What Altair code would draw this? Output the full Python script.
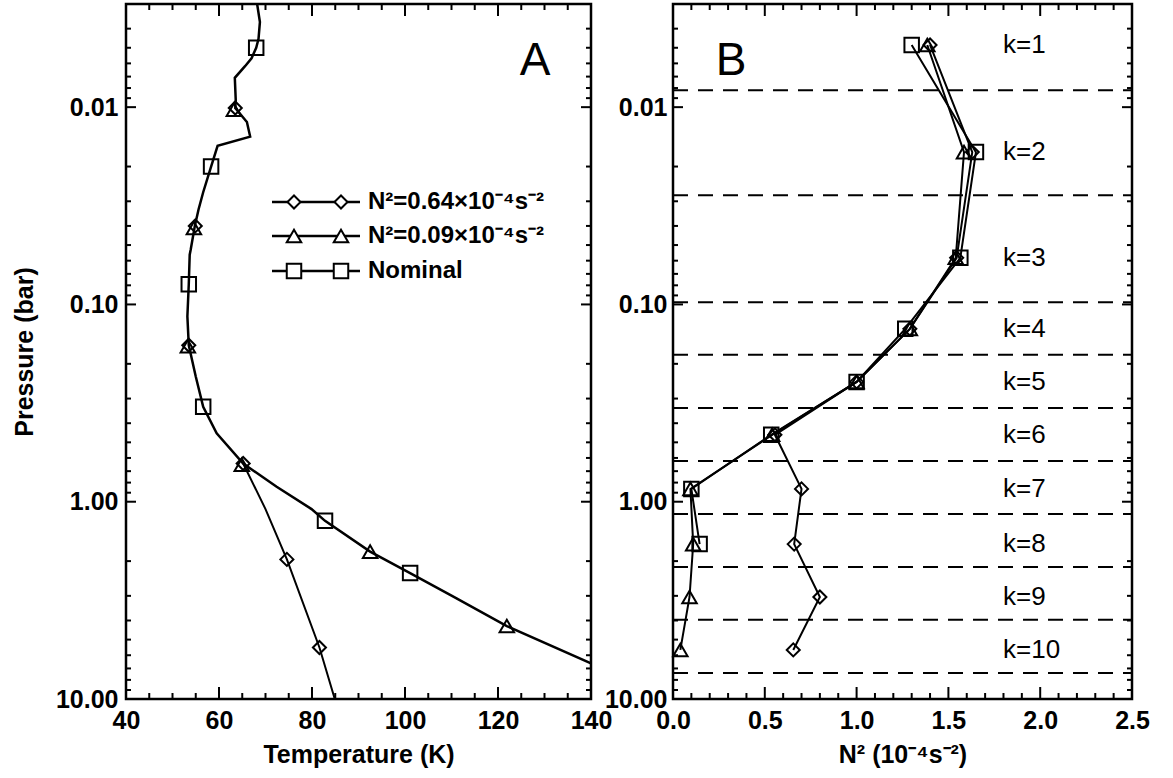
import altair as alt
import pandas as pd

# ---------------- Panel A: temperature profiles ----------------
nom_T = [68.2, 68.8, 68.5, 68.0, 67.0, 65.6, 63.4, 63.6, 63.5, 66.0, 66.7, 59.7, 58.3,
         56.6, 55.6, 54.8, 53.9, 53.7, 53.5, 53.2, 53.5, 55.0, 56.6, 59.5, 65.2, 72.4,
         79.9, 82.8, 92.5, 101.1, 110.4, 121.9, 140.0]
nom_P = [0.0030, 0.0037, 0.0045, 0.0050, 0.00565, 0.0062, 0.0071, 0.0092, 0.0101, 0.0119,
         0.0141, 0.0157, 0.020, 0.027, 0.033, 0.040, 0.053, 0.056, 0.079, 0.115, 0.161,
         0.232, 0.33, 0.45, 0.64, 0.84, 1.09, 1.25, 1.79, 2.30, 3.03, 4.27, 6.59]

dia_T = [65.2, 70.0, 74.6, 81.6, 84.9]
dia_P = [0.64, 1.09, 1.96, 5.48, 10.0]

sqA_T = [68.0, 58.3, 53.5, 56.6, 82.8, 101.1]
sqA_P = [0.0050, 0.020, 0.079, 0.33, 1.25, 2.30]
dmA_T = [63.5, 54.9, 53.5, 65.2, 74.6, 81.6]
dmA_P = [0.0101, 0.040, 0.161, 0.64, 1.96, 5.48]
trA_T = [63.2, 54.6, 53.3, 64.9, 92.5, 121.9]
trA_P = [0.0103, 0.041, 0.163, 0.65, 1.79, 4.27]

legend_labels = ["N²=0.64×10⁻⁴s⁻²", "N²=0.09×10⁻⁴s⁻²", "Nominal"]
legend_shapes = ["diamond", "triangle-up", "square"]

# ---------------- Panel B: N^2 per layer ----------------
k_layers = ["k=1", "k=2", "k=3", "k=4", "k=5", "k=6", "k=7", "k=8", "k=9", "k=10"]
k_P = [0.00484, 0.0169, 0.058, 0.133, 0.247, 0.458, 0.861, 1.64, 3.04, 5.64]
bound_P = [0.0082, 0.028, 0.0975, 0.180, 0.335, 0.621, 1.153, 2.14, 3.97, 7.38]
sqB_N2 = [1.30, 1.65, 1.565, 1.265, 1.00, 0.535, 0.10, 0.145]
trB_N2 = [1.385, 1.585, 1.54, 1.29, 1.00, 0.54, 0.095, 0.11, 0.09, 0.04]
dmB_N2 = [1.40, 1.63, 1.545, 1.29, 1.00, 0.555, 0.70, 0.66, 0.80, 0.655]

# ---------------- axis tick values ----------------
xA_major = [40, 60, 80, 100, 120, 140]
xA_minor = [v for v in range(45, 140, 5) if v % 20 != 0]
xB_major = [0.0, 0.5, 1.0, 1.5, 2.0, 2.5]
xB_minor = [round(i * 0.1, 1) for i in range(1, 25) if i % 5 != 0]
y_major = [0.01, 0.1, 1.0, 10.0]
y_minor = [m * d for d in [0.001, 0.01, 0.1, 1.0] for m in range(2, 10) if m * d >= 0.003]

W1, W2, H = 465, 459, 695
FONT = "Liberation Sans"
FS = 25

yscale = alt.Scale(type="log", domain=[0.003, 10], reverse=True, nice=False)
xsA = alt.Scale(domain=[40, 140], nice=False, zero=False)
xsB = alt.Scale(domain=[0, 2.5], nice=False, zero=False)

def axis(values, title, fmt, lp, tp):
    return alt.Axis(values=values, title=title, format=fmt, ticks=False, tickSize=0,
                    domain=False, grid=False, labelPadding=lp, titlePadding=tp,
                    labelFontSize=FS, titleFontSize=FS, labelFont=FONT, titleFont=FONT,
                    labelFontWeight="bold", titleFontWeight="bold",
                    labelColor="black", titleColor="black", labelFlush=False,
                    labelOverlap=False)

axA_x = axis(xA_major, "Temperature (K)", "d", 9, 9)
axB_x = axis(xB_major, "N² (10⁻⁴s⁻²)", ".1f", 9, 9)
axA_y = axis(y_major, "Pressure (bar)", ".2f", 8, 18)
axB_y = axis(y_major, None, ".2f", 6, 10)


def tick_layers(xfield, xscale, xaxis, yaxis, W, xmaj, xmin):
    layers = []
    for vals, ln in [(xmaj, 12), (xmin, 6)]:
        d = pd.DataFrame({xfield: vals})
        layers.append(alt.Chart(d).mark_rule(color="black", strokeWidth=2).encode(
            x=alt.X(f"{xfield}:Q", scale=xscale, axis=xaxis),
            y=alt.value(H), y2=alt.value(H - ln)))
        layers.append(alt.Chart(d).mark_rule(color="black", strokeWidth=2).encode(
            x=alt.X(f"{xfield}:Q", scale=xscale, axis=xaxis),
            y=alt.value(0), y2=alt.value(ln)))
    for vals, ln in [(y_major, 10), (y_minor, 5)]:
        d = pd.DataFrame({"P": vals})
        layers.append(alt.Chart(d).mark_rule(color="black", strokeWidth=2).encode(
            y=alt.Y("P:Q", scale=yscale, axis=yaxis),
            x=alt.value(0), x2=alt.value(ln)))
        layers.append(alt.Chart(d).mark_rule(color="black", strokeWidth=2).encode(
            y=alt.Y("P:Q", scale=yscale, axis=yaxis),
            x=alt.value(W), x2=alt.value(W - ln)))
    return layers


SIZES = {"diamond": 170, "triangle-up": 210, "square": 210}

# ---------------- Panel A ----------------
df_nom = pd.DataFrame({"T": nom_T, "P": nom_P, "i": range(len(nom_T))})
df_dia = pd.DataFrame({"T": dia_T, "P": dia_P, "i": range(len(dia_T))})

encA = dict(x=alt.X("T:Q", scale=xsA, axis=axA_x), y=alt.Y("P:Q", scale=yscale, axis=axA_y))

layersA = []
layersA.append(alt.Chart(df_nom).mark_line(color="black", strokeWidth=2.5, clip=True).encode(
    order="i:Q", **encA))
layersA.append(alt.Chart(df_dia).mark_line(color="black", strokeWidth=2, clip=True).encode(
    order="i:Q", **encA))
for Ts, Ps, shp in [(dmA_T, dmA_P, "diamond"), (trA_T, trA_P, "triangle-up"), (sqA_T, sqA_P, "square")]:
    d = pd.DataFrame({"T": Ts, "P": Ps})
    layersA.append(alt.Chart(d).mark_point(shape=shp, size=SIZES[shp], color="black",
                                           strokeWidth=2, opacity=1).encode(**encA))

# legend (drawn inside panel A)
leg_df = pd.DataFrame({"label": legend_labels, "shape": legend_shapes})
leg_rows_y = [198, 232, 267]
for idx, (lab, shp) in enumerate(zip(legend_labels, legend_shapes)):
    yv = leg_rows_y[idx]
    base = alt.Chart(leg_df).transform_filter(alt.datum.label == lab)
    layersA.append(base.mark_rule(color="black", strokeWidth=2.5).encode(
        x=alt.value(146), x2=alt.value(234), y=alt.value(yv)))
    for xv in [168, 215]:
        layersA.append(base.mark_point(shape=shp, size=SIZES[shp], color="black",
                                       strokeWidth=2, fill="white", filled=True, opacity=1,
                                       stroke="black").encode(x=alt.value(xv), y=alt.value(yv)))
    layersA.append(base.mark_text(align="left", baseline="middle", font=FONT, fontSize=24,
                                  fontWeight="bold", color="black").encode(
        x=alt.value(242), y=alt.value(yv), text="label:N"))

layersA.append(alt.Chart(pd.DataFrame({"t": ["A"]})).mark_text(
    font=FONT, fontSize=46, fontWeight="normal", color="black", baseline="middle",
    align="center").encode(x=alt.value(409), y=alt.value(57), text="t:N"))

layersA += tick_layers("T", xsA, axA_x, axA_y, W1, xA_major, xA_minor)
panelA = alt.layer(*layersA).properties(width=W1, height=H)

# ---------------- Panel B ----------------
encB = dict(x=alt.X("N2:Q", scale=xsB, axis=axB_x), y=alt.Y("P:Q", scale=yscale, axis=axB_y))
layersB = []
df_b = pd.DataFrame({"P": bound_P})
layersB.append(alt.Chart(df_b).mark_rule(color="black", strokeWidth=2, strokeDash=[15, 10]).encode(
    y=alt.Y("P:Q", scale=yscale, axis=axB_y), x=alt.value(0), x2=alt.value(W2)))
df_k = pd.DataFrame({"P": k_P, "k": k_layers})
layersB.append(alt.Chart(df_k).mark_text(align="left", baseline="middle", font=FONT,
                                         fontSize=26, color="black").encode(
    y=alt.Y("P:Q", scale=yscale, axis=axB_y), x=alt.value(330), text="k:N"))
for vals, shp in [(sqB_N2, "square"), (trB_N2, "triangle-up"), (dmB_N2, "diamond")]:
    d = pd.DataFrame({"N2": vals, "P": k_P[:len(vals)], "i": range(len(vals))})
    layersB.append(alt.Chart(d).mark_line(color="black", strokeWidth=2).encode(order="i:Q", **encB))
    layersB.append(alt.Chart(d).mark_point(shape=shp, size=SIZES[shp], color="black",
                                           strokeWidth=2, opacity=1).encode(**encB))
layersB.append(alt.Chart(pd.DataFrame({"t": ["B"]})).mark_text(
    font=FONT, fontSize=46, fontWeight="normal", color="black", baseline="middle",
    align="center").encode(x=alt.value(58), y=alt.value(57), text="t:N"))
layersB += tick_layers("N2", xsB, axB_x, axB_y, W2, xB_major, xB_minor)
panelB = alt.layer(*layersB).properties(width=W2, height=H)

chart = alt.hconcat(panelA, panelB, spacing=82, bounds="flush").properties(
    padding={"left": 11, "top": 1, "right": 10, "bottom": 2},
    background="white",
).configure_view(stroke="black", strokeWidth=2.5)

chart.save("out.html", embed_options={"renderer": "svg", "actions": False})
